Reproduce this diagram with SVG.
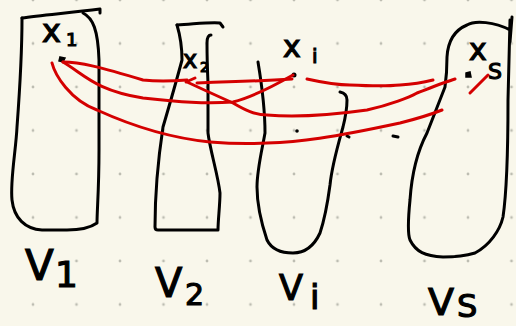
<svg xmlns="http://www.w3.org/2000/svg" width="516" height="326" viewBox="0 0 516 326">
<defs>
<style>
.ink{fill:none;stroke:#000;stroke-width:3;stroke-linecap:round;stroke-linejoin:round}
.red{fill:none;stroke:#d40000;stroke-width:3;stroke-linecap:round;stroke-linejoin:round}
.t{font-family:"DejaVu Sans","Liberation Sans",sans-serif;fill:#000;stroke:#000;stroke-width:1.2}
.g{fill:#bdbdb2}
</style>
<pattern id="grid" x="33" y="0" width="43.5" height="43.5" patternUnits="userSpaceOnUse">
<circle cx="0" cy="0" r="1.4" class="g"/><circle cx="43.5" cy="0" r="1.4" class="g"/><circle cx="0" cy="43.5" r="1.4" class="g"/><circle cx="43.5" cy="43.5" r="1.4" class="g"/>
</pattern>
</defs>
<rect width="516" height="326" fill="#f9f7eb"/>
<rect width="516" height="326" fill="url(#grid)"/>

<g id="V1">
<path class="ink" d="M22,18 C40,15 70,13 100,9 L100,13"/>
<path class="ink" d="M83,13 C93,18 98,30 99,60 L99,150 C99,190 97,210 97,223 C90,228 80,230 67,230 L42,230 C25,229 14,218 12,200 C10,180 16,150 17,127 C19,100 22,60 22,18"/>
<text class="t" x="42" y="42" font-size="32">x</text>
<text class="t" x="66" y="46" font-size="18">1</text>
<path d="M60,57 L65,58 L63,62 L59,61 Z" fill="#000" stroke="#000" stroke-width="1.5"/>
<text class="t" x="25" y="280" font-size="42">V</text>
<text class="t" x="55" y="287" font-size="36">1</text>
</g>

<g id="V2">
<path class="ink" d="M177,25 C195,24 210,22 220,23 L223,27"/>
<path class="ink" d="M177,25 C180,35 182,50 182,60 C178,75 168,110 163,127 C158,160 155,200 155,227 C155,230 157,230 158,230 L218,230 C218,220 220,205 220,193 C218,175 210,150 208,133 L208,83 C207,60 207,45 207,43 C207,38 208,35 211,35"/>
<text class="t" x="183" y="68" font-size="24">x</text>
<text class="t" x="200" y="72" font-size="14">2</text>
<text class="t" x="155" y="297" font-size="40">V</text>
<text class="t" x="185" y="305" font-size="30">2</text>
</g>

<g id="Vi">
<path class="ink" d="M258,62 C261,80 265,110 265,133 C262,150 257,170 257,187 C257,205 262,225 267,240 C272,250 282,253 293,253 C303,253 313,248 320,233 C326,215 328,200 330,185 C332,165 338,145 343,127 C346,115 347,105 347,100 C347,96 345,93 340,92"/>
<text class="t" x="283" y="57" font-size="30">x</text>
<text class="t" x="312" y="63" font-size="20">i</text>
<circle cx="294" cy="75" r="2.5" fill="#000"/>
<text class="t" x="279" y="300" font-size="35">V</text>
<text class="t" x="310" y="309" font-size="34">i</text>
</g>

<g id="Vs">
<path class="ink" d="M510,30 C495,22 475,20 467,25 C455,30 448,40 447,57 C447,70 446,80 445,87 C440,100 432,120 427,133 C418,150 412,170 410,200 C408,220 408,235 410,240 C416,252 425,256 443,257 C455,257 465,256 475,253 C490,245 500,230 503,217 C507,190 508,130 508,100 L510,20"/>
<path class="ink" d="M512,17 L510,42" stroke-width="4"/>
<text class="t" x="469" y="60" font-size="30">x</text>
<text class="t" x="488" y="79" font-size="22">S</text>
<path d="M466,73 L470,72 L471,77 L466,77 Z" fill="#000" stroke="#000" stroke-width="1.5"/>
<text class="t" x="428" y="315" font-size="38">V</text>
<text class="t" x="457" y="317" font-size="32">S</text>
</g>

<g id="ellipsis">
<circle cx="297" cy="131" r="1.8" fill="#000"/>
<path class="ink" d="M347,136 L349,137" stroke-width="2.5"/>
<path class="ink" d="M393,136 L398,137" stroke-width="2.5"/>
</g>

<g id="connectors">
<path class="red" d="M63,62 C80,62 100,67 143,80 C160,82 175,81 187,80"/>
<path class="red" d="M63,62 C85,75 95,90 143,98 C180,102 205,104 233,102 C250,98 270,88 293,75"/>
<path class="red" d="M52,63 C55,75 70,100 97,110 C130,125 170,138 210,142 C235,144 250,144 267,143 C300,142 330,138 400,123 C420,118 432,114 442,110"/>
<path class="red" d="M186,82 L195,78"/>
<path class="red" d="M197,83 C230,82 260,81 292,79"/>
<path class="red" d="M187,82 C200,88 215,95 233,103 C245,110 255,115 267,115 C290,117 317,117 367,110 C390,105 410,97 417,93 C430,88 445,82 455,79"/>
<path class="red" d="M307,79 C325,83 340,85 350,85 C370,86 390,86 400,85 C415,84 425,82 433,80"/>
<path class="red" d="M470,93 L488,75"/>
</g>
</svg>
